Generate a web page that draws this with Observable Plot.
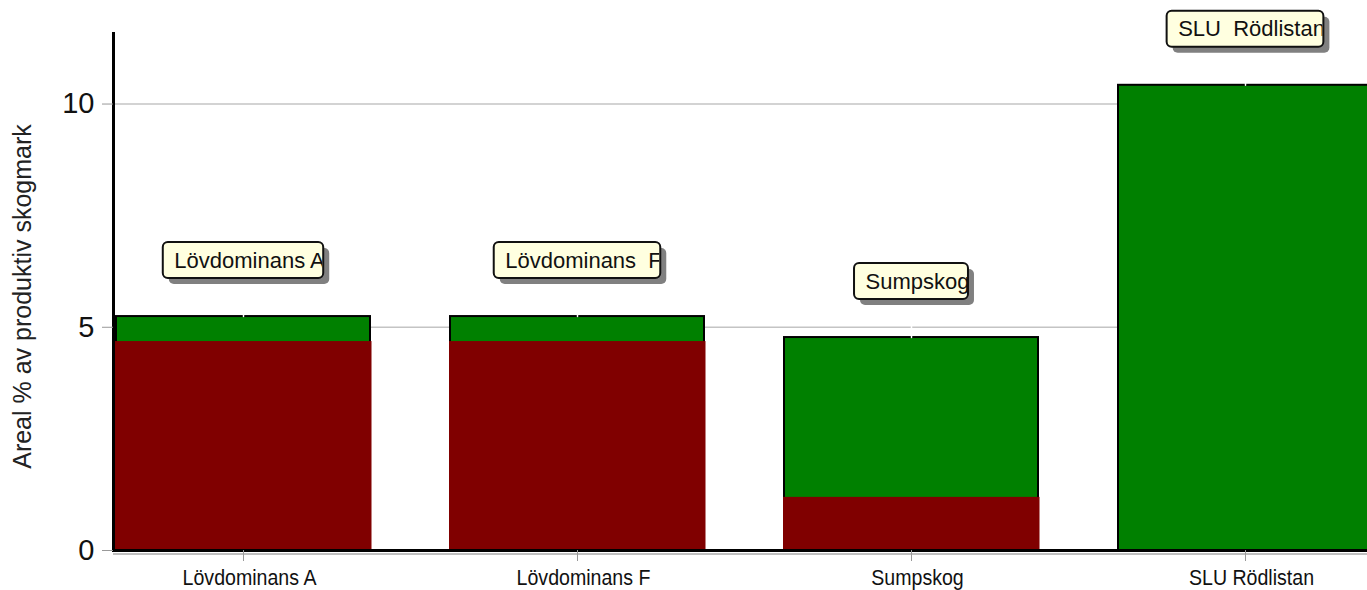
<!DOCTYPE html>
<html><head><meta charset="utf-8">
<script src="https://cdn.jsdelivr.net/npm/d3@7"></script>
<script src="https://cdn.jsdelivr.net/npm/@observablehq/plot@0.6"></script>
<style>body{margin:0;overflow:hidden;background:#fff} #chart svg{overflow:hidden}</style>
</head><body><div id="chart"></div>
<script>
const categories = ["Lövdominans A", "Lövdominans F", "Sumpskog", "SLU Rödlistan"];
const boxLabels = ["Lövdominans A", "Lövdominans  F", "Sumpskog", "SLU  Rödlistan"];
const totals = [5.24, 5.24, 4.77, 10.42];
const reds = [4.68, 4.68, 1.19, 0];
const yTicks = [0, 5, 10];
const yLabel = "Areal % av produktiv skogmark";

const data = categories.map((c, i) => ({category: c, label: boxLabels[i], total: totals[i], red: reds[i]}));
const font = "'Liberation Sans', Arial, sans-serif";
const notch = {draw(ctx, l) { ctx.moveTo(0, 0); ctx.lineTo(0, -l); }};

const plot = Plot.plot({
  width: 1367, height: 590,
  marginLeft: 113, marginRight: 0, marginTop: 33, marginBottom: 40,
  style: {fontFamily: font, background: "white"},
  x: {domain: categories, range: [35.3, 1452.5], padding: 0.24, label: null},
  y: {domain: [0, 11.58], label: null},
  marks: [
    Plot.gridY({ticks: yTicks.filter(d => d > 0), stroke: "#c4c4c4", strokeOpacity: 1, strokeWidth: 1.5}),
    Plot.barY(data, {x: "category", y: "total", fill: "#008000", stroke: "black", strokeWidth: 2}),
    Plot.barY(data, {x: "category", y: "red", fill: "#800000", insetLeft: -1, insetRight: -1.5}),
    Plot.vector(data, {x: "category", y: "total", length: 12, rotate: 0, anchor: "start", shape: notch, stroke: "white", strokeWidth: 1.5}),
    Plot.ruleY([0], {stroke: "#aaa", strokeWidth: 1.5, dy: 3.5}),
    Plot.ruleY([0], {stroke: "black", strokeWidth: 3}),
    Plot.frame({anchor: "left", stroke: "black", strokeWidth: 3}),
    Plot.axisY({ticks: yTicks, tickSize: 11, tickPadding: 8, fontSize: 29, stroke: "#999", fill: "#111", label: null}),
    Plot.axisX({tickSize: 11, stroke: "#999", tickFormat: () => "", label: null}),
    Plot.axisX({tickSize: 0, tickPadding: 19, fontSize: 22.5, fill: "#111", dx: 6, label: null}),
    Plot.text([yLabel], {frameAnchor: "left", textAnchor: "middle", rotate: -90, dx: -91, dy: 4.5, fontSize: 25, fill: "#222"}),
    Plot.text(data, {x: "category", y: "total", text: "label", dx: 6, dy: -56, fontSize: 22, lineAnchor: "middle", fill: "#111"})
  ]
});
document.getElementById("chart").append(plot);

const svg = d3.select(plot);

// condensed look for the category tick labels
svg.selectAll('g[aria-label="x-axis tick label"] text').each(function() {
  const w = this.getComputedTextLength();
  this.setAttribute("textLength", (w * 0.87).toFixed(1));
  this.setAttribute("lengthAdjust", "spacingAndGlyphs");
});

// label boxes behind the text, sized from the rendered text
const xs = plot.scale("x"), ys = plot.scale("y");
const groups = plot.querySelectorAll(":scope > g");
const tgNode = groups[groups.length - 1];
const texts = tgNode.querySelectorAll("text");
const boxes = data.map((d, i) => {
  const w = texts[i] ? texts[i].getComputedTextLength() : 120;
  const cx = xs.apply(d.category) + xs.bandwidth / 2;
  const cy = ys.apply(d.total) - 56;
  return {x: cx - (w + 10) / 2, y: cy - 18, w: w + 10, h: 36};
});
const layer = d3.select(plot.insertBefore(document.createElementNS("http://www.w3.org/2000/svg", "g"), tgNode));
layer.selectAll("rect.sh").data(boxes).join("rect").attr("class", "sh")
  .attr("x", b => b.x + 6).attr("y", b => b.y + 6).attr("width", b => b.w).attr("height", b => b.h)
  .attr("rx", 5).attr("fill", "#808080");
layer.selectAll("rect.bx").data(boxes).join("rect").attr("class", "bx")
  .attr("x", b => b.x).attr("y", b => b.y).attr("width", b => b.w).attr("height", b => b.h)
  .attr("rx", 5).attr("fill", "#ffffe0").attr("stroke", "#111").attr("stroke-width", 2);
const defs = svg.append("defs");
const cp = defs.append("clipPath").attr("id", "lblclip");
cp.selectAll("rect").data(boxes).join("rect")
  .attr("x", b => b.x).attr("y", b => b.y).attr("width", b => b.w - 1).attr("height", b => b.h);
const wrap = plot.insertBefore(document.createElementNS("http://www.w3.org/2000/svg", "g"), tgNode);
wrap.setAttribute("clip-path", "url(#lblclip)");
wrap.appendChild(tgNode);
</script>
</body></html>
